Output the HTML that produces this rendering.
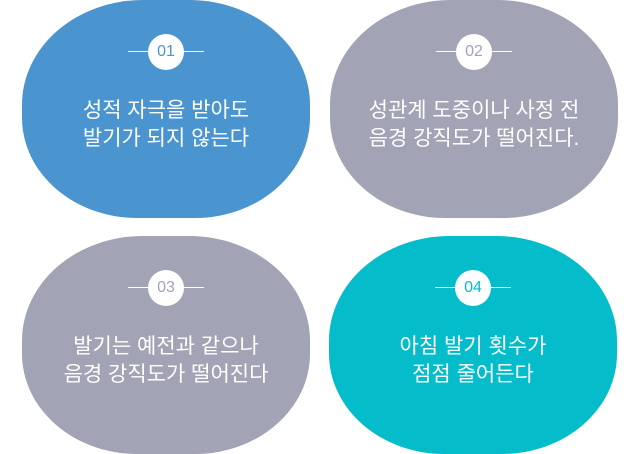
<!DOCTYPE html>
<html><head><meta charset="utf-8"><style>
body{margin:0;width:640px;height:453px;background:#fff;position:relative;overflow:hidden;font-family:"Liberation Sans","Noto Sans CJK KR",sans-serif}
.s{position:absolute;width:288px;height:218px;border-radius:42% 42% 40% 40%/48% 48% 46% 46%;color:#fff;text-align:center}
.b{position:absolute;left:126px;top:34px;width:36px;height:36px;border-radius:50%;background:#fff;font-size:16px;line-height:36px}
.l{position:absolute;top:51px;height:1px;width:22px;background:#fff}
.t{position:absolute;left:0;right:0;top:97px;font-size:21px;line-height:28px}
</style></head><body>
<div class="s" style="left:22px;top:0;background:#4a95d0"><div class="l" style="left:106px"></div><div class="l" style="left:160px"></div><div class="b" style="color:#4a95d0">01</div><div class="t">성적 자극을 받아도<br>발기가 되지 않는다</div></div>
<div class="s" style="left:330px;top:0;background:#a2a3b5"><div class="l" style="left:106px"></div><div class="l" style="left:160px"></div><div class="b" style="color:#a2a3b5">02</div><div class="t">성관계 도중이나 사정 전<br>음경 강직도가 떨어진다.</div></div>
<div class="s" style="left:22px;top:236px;background:#a2a3b5"><div class="l" style="left:106px"></div><div class="l" style="left:160px"></div><div class="b" style="color:#a2a3b5">03</div><div class="t">발기는 예전과 같으나<br>음경 강직도가 떨어진다</div></div>
<div class="s" style="left:329px;top:236px;background:#05bccb"><div class="l" style="left:106px"></div><div class="l" style="left:160px"></div><div class="b" style="color:#05bccb">04</div><div class="t">아침 발기 횟수가<br>점점 줄어든다</div></div>
</body></html>
